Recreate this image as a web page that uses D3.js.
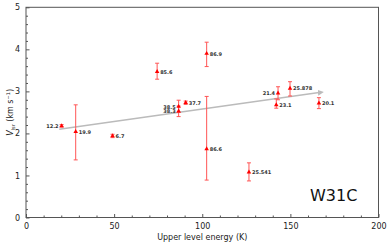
<!DOCTYPE html>
<html><head><meta charset="utf-8">
<script src="https://cdn.jsdelivr.net/npm/d3@7"></script>
<style>body{margin:0;background:#fff}svg{display:block}text{font-family:"DejaVu Sans",sans-serif}</style>
</head><body>
<svg id="c" width="391" height="245"></svg>
<script>
const labels = ["12.2","19.9","6.7","85.6","38.5","38.3","37.7","86.9","86.6","25.541","21.4","23.1","25.878","20.1"];
const energy = [20.2, 28.2, 49.1, 74.4, 86.6, 86.6, 90.6, 102.5, 102.5, 126.5, 143.0, 142.0, 149.8, 166.2];
const vlsr   = [2.18, 2.04, 1.94, 3.47, 2.64, 2.53, 2.73, 3.90, 1.63, 1.08, 2.96, 2.68, 3.07, 2.72];
const vlow   = [2.15, 1.37, 1.90, 3.29, 2.50, 2.40, 2.69, 3.59, 0.89, 0.87, 2.80, 2.60, 2.89, 2.59];
const vhigh  = [2.21, 2.68, 1.98, 3.67, 2.79, 2.65, 2.77, 4.17, 2.88, 1.30, 3.11, 2.82, 3.23, 2.85];
const labelLeft = [true,false,false,false,true,true,false,false,false,false,true,false,false,false];
const trendX = [18.9, 169];
const trendY = [2.10, 2.99];
const xTicks = [0,50,100,150,200];
const yTicks = [0,1,2,3,4,5];

const svg = d3.select("#c");
const L=26, R=378.5, T=7.3, B=217.5;
const x = d3.scaleLinear().domain([0,200]).range([L,R]);
const y = d3.scaleLinear().domain([0,5]).range([B,T]);
const axisCol = "#555";

// frame
svg.append("rect").attr("x",L).attr("y",T).attr("width",R-L).attr("height",B-T)
  .attr("fill","none").attr("stroke",axisCol).attr("stroke-width",1);

// x axis
const gx = svg.append("g").attr("transform",`translate(0,${B})`)
  .call(d3.axisBottom(x).tickValues(xTicks).tickSizeInner(-3.5).tickSizeOuter(0).tickPadding(6).tickFormat(d3.format("d")));
gx.select(".domain").remove();
gx.selectAll(".tick line").attr("stroke",axisCol);
gx.selectAll("text").attr("font-size","8px").attr("fill","#222");
const gxm = svg.append("g").attr("transform",`translate(0,${B})`)
  .call(d3.axisBottom(x).tickValues(d3.range(10,200,10).filter(v=>v%50)).tickSizeInner(-2).tickSizeOuter(0).tickFormat(""));
gxm.select(".domain").remove();
gxm.selectAll(".tick line").attr("stroke",axisCol);

// y axis
const gy = svg.append("g").attr("transform",`translate(${L},0)`)
  .call(d3.axisLeft(y).tickValues(yTicks).tickSizeInner(-3.5).tickSizeOuter(0).tickPadding(6).tickFormat(d3.format("d")));
gy.select(".domain").remove();
gy.selectAll(".tick line").attr("stroke",axisCol);
gy.selectAll("text").attr("font-size","8px").attr("fill","#222");
const gym = svg.append("g").attr("transform",`translate(${L},0)`)
  .call(d3.axisLeft(y).tickValues(d3.range(0.2,5,0.2).filter(v=>Math.abs(v-Math.round(v))>0.01)).tickSizeInner(-2).tickSizeOuter(0).tickFormat(""));
gym.select(".domain").remove();
gym.selectAll(".tick line").attr("stroke",axisCol);

// axis labels
svg.append("text").attr("x",(L+R)/2).attr("y",240).attr("text-anchor","middle")
  .attr("font-size","8px").attr("fill","#222").text("Upper level energy (K)");
const yl = svg.append("text").attr("transform",`translate(13,${(T+B)/2}) rotate(-90)`)
  .attr("text-anchor","middle").attr("font-size","8px").attr("fill","#222");
yl.append("tspan").attr("font-style","italic").text("V");
yl.append("tspan").attr("font-size","5px").attr("dy","1.5").text("lsr");
yl.append("tspan").attr("dy","-1.5").text(" (km s");
yl.append("tspan").attr("font-size","5px").attr("dy","-3").text("−1");
yl.append("tspan").attr("dy","3").text(")");

// trend arrow
svg.append("defs").append("marker").attr("id","ah").attr("viewBox","0 0 10 10")
  .attr("refX",5).attr("refY",5).attr("markerWidth",4).attr("markerHeight",4)
  .attr("orient","auto").append("path").attr("d","M0,0L10,5L0,10z").attr("fill","#bbb");
svg.append("line").attr("x1",x(trendX[0])).attr("y1",y(trendY[0]))
  .attr("x2",x(trendX[1])-3).attr("y2",y(trendY[1])+0.5)
  .attr("stroke","#bbb").attr("stroke-width",1.5).attr("marker-end","url(#ah)");

// error bars
const idx = d3.range(labels.length);
const eb = svg.append("g").attr("stroke","#f55").attr("stroke-width",1);
eb.selectAll(".v").data(idx).join("line")
  .attr("x1",i=>x(energy[i])).attr("x2",i=>x(energy[i]))
  .attr("y1",i=>y(vlow[i])).attr("y2",i=>y(vhigh[i]));
eb.selectAll(".c1").data(idx).join("line")
  .attr("x1",i=>x(energy[i])-2).attr("x2",i=>x(energy[i])+2)
  .attr("y1",i=>y(vlow[i])).attr("y2",i=>y(vlow[i]));
eb.selectAll(".c2").data(idx).join("line")
  .attr("x1",i=>x(energy[i])-2).attr("x2",i=>x(energy[i])+2)
  .attr("y1",i=>y(vhigh[i])).attr("y2",i=>y(vhigh[i]));

// markers
svg.append("g").selectAll("path").data(idx).join("path")
  .attr("transform",i=>`translate(${x(energy[i])},${y(vlsr[i])})`)
  .attr("d",d3.symbol().type(d3.symbolTriangle).size(9))
  .attr("fill","red");

// labels
svg.append("g").selectAll("text").data(idx).join("text")
  .attr("x",i=>x(energy[i]) + (labelLeft[i]?-3:3))
  .attr("y",i=>y(vlsr[i])+2)
  .attr("text-anchor",i=>labelLeft[i]?"end":"start")
  .attr("font-size","5px").attr("font-weight","bold").attr("fill","#333")
  .text(i=>labels[i]);

svg.append("text").attr("x",310).attr("y",201).attr("font-size","16px").attr("fill","#111").text("W31C");
</script>
</body></html>
